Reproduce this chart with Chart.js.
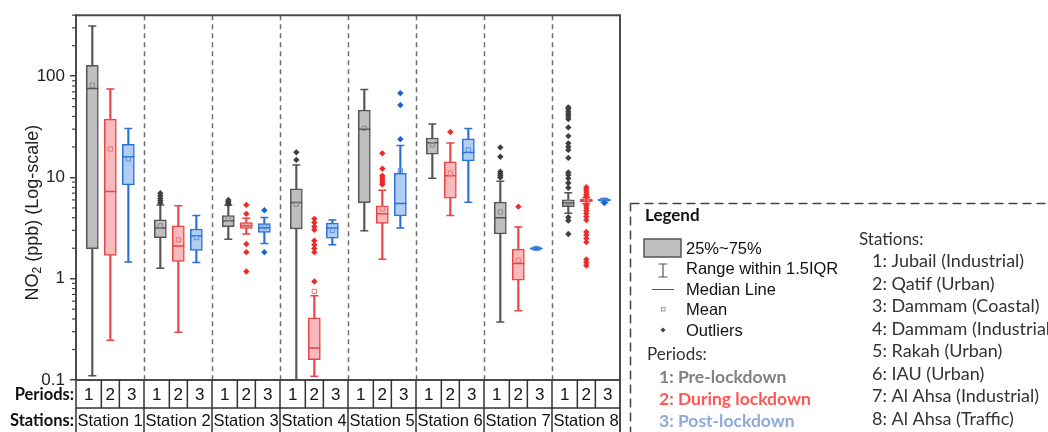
<!DOCTYPE html>
<html>
<head>
<meta charset="utf-8">
<script src="https://cdn.jsdelivr.net/npm/chart.js@4.4.1/dist/chart.umd.min.js"></script>
<style>
  html, body { margin: 0; padding: 0; background: #fff; }
  #wrap { width: 1048px; height: 432px; }
</style>
</head>
<body>
<div id="wrap"><canvas id="chart-no2" width="1048" height="432"></canvas></div>
<script>
const stations = ["Station 1", "Station 2", "Station 3", "Station 4", "Station 5", "Station 6", "Station 7", "Station 8"];
const periods = ["1", "2", "3"];
const yTicks = [0.1, 1, 10, 100];

const periodNames = ["1: Pre-lockdown", "2: During lockdown", "3: Post-lockdown"];
const stationNames = [
  "1: Jubail (Industrial)",
  "2: Qatif (Urban)",
  "3: Dammam (Coastal)",
  "4: Dammam (Industrial)",
  "5: Rakah (Urban)",
  "6: IAU (Urban)",
  "7: Al Ahsa (Industrial)",
  "8: Al Ahsa (Traffic)",
];
const legendItems = ["25%~75%", "Range within 1.5IQR", "Median Line", "Mean", "Outliers"];

// pre-lockdown
const preLow = [0.11, 1.27, 2.46, 0.1, 2.97, 9.8, 0.374, 4.44];
const preQ1 = [1.98, 2.55, 3.27, 3.11, 5.65, 17.0, 2.77, 5.15];
const preMed = [75.7, 3.16, 3.73, 5.65, 30.0, 22.0, 3.99, 5.6];
const preQ3 = [128, 3.81, 4.2, 7.7, 46.2, 24.5, 5.7, 6.0];
const preHigh = [313, 5.36, 5.3, 13.3, 74, 33.7, 9.17, 7.08];
const preMean = [81.5, 3.33, 3.9, 5.44, 30.5, 21.0, 4.57, 5.7];
const preOut = [
  [],
  [7.0, 6.6, 6.2, 5.9, 5.6],
  [6.0, 5.8, 5.6, 5.45],
  [17.7, 14.9],
  [],
  [],
  [19.8, 16.0, 11.4, 10.9, 10.4, 10.0],
  [49.2, 47.3, 44.5, 42, 40, 37.7, 31.2, 25.6, 21.7, 20.1, 18.7, 15.6, 11.2, 10.6, 9.8, 8.8, 7.9, 4.05, 3.75, 2.76],
];

// during lockdown
const durLow = [0.247, 0.296, 2.77, 0.109, 1.56, 4.2, 0.484, 5.5];
const durQ1 = [1.7, 1.48, 3.13, 0.159, 3.51, 6.24, 0.97, 5.75];
const durMed = [7.25, 2.11, 3.33, 0.207, 4.37, 10.4, 1.41, 5.9];
const durQ3 = [37.7, 3.33, 3.59, 0.41, 5.24, 14.3, 1.96, 6.1];
const durHigh = [74.5, 5.24, 3.96, 0.68, 7.48, 21.9, 3.25, 6.3];
const durMean = [19.1, 2.42, 3.4, 0.75, 4.9, 11.0, 1.52, 5.85];
const durOut = [
  [],
  [],
  [5.36, 4.37, 2.2, 1.83, 1.18],
  [3.9, 3.59, 3.27, 3.04, 2.37, 2.16, 1.99, 1.83, 0.94],
  [17.3, 12.2, 10.4, 9.9, 9.4, 8.9, 8.5],
  [28.1],
  [5.15],
  [8.0, 7.6, 7.2, 6.8, 6.5, 5.3, 5.0, 4.7, 4.4, 4.1, 3.8, 2.9, 2.7, 2.5, 2.3, 1.55, 1.45, 1.35],
];

// post-lockdown
const postLow = [1.46, 1.45, 2.23, 2.16, 3.16, 5.7, 1.93, 5.7];
const postQ1 = [8.44, 1.9, 2.86, 2.52, 4.18, 14.6, 1.96, 5.85];
const postMed = [16.0, 2.65, 3.18, 3.16, 5.52, 17.6, 1.99, 5.95];
const postQ3 = [21.2, 3.09, 3.51, 3.54, 11.0, 24.1, 2.02, 6.1];
const postHigh = [30.5, 4.2, 4.02, 3.81, 20.7, 30.5, 2.05, 6.2];
const postMean = [15.2, 2.55, 3.25, 3.0, 11.7, 18.7, 1.99, 5.95];
const postOut = [[], [], [4.75, 1.83], [], [68, 51.8, 23.9], [], [], [5.6]];

// where each period sits inside a station cell (0..1)
const boxOffsets = [0.24, 0.505, 0.77];
const cellSplits = [0.3725, 0.6375];

const colGray = { line: "#555555", fill: "#bfbfbf", mean: "#8a8a8a", out: "#3f3f3f" };
const colRed = { line: "#e84545", fill: "#f8b9bc", mean: "#e87878", out: "#ec2a2a" };
const colBlue = { line: "#2a72d8", fill: "#b1cdf4", mean: "#5a8fdc", out: "#1463d8" };

const SANS = "'Liberation Sans', Arial, sans-serif";
const CAL = "Lato, 'Open Sans', sans-serif";

function xPos(i, k) {
  return i + boxOffsets[k];
}

function periodSets(k, low, q1, med, q3, high, mean, outs, col) {
  const caps = [];
  low.forEach((v, i) => caps.push({ x: xPos(i, k), y: v }));
  high.forEach((v, i) => caps.push({ x: xPos(i, k), y: v }));
  const outPts = [];
  outs.forEach((arr, i) => arr.forEach((v) => outPts.push({ x: xPos(i, k), y: v })));
  return [
    {
      type: "bar",
      data: low.map((v, i) => ({ x: xPos(i, k), y: [v, high[i]] })),
      backgroundColor: col.line,
      barThickness: 1.5,
      grouped: false,
      order: 6,
    },
    {
      type: "scatter",
      data: caps,
      pointStyle: "line",
      radius: 4,
      borderColor: col.line,
      borderWidth: 1.5,
      order: 5,
    },
    {
      type: "bar",
      data: q1.map((v, i) => ({ x: xPos(i, k), y: [v, q3[i]] })),
      backgroundColor: col.fill,
      borderColor: col.line,
      borderWidth: 1.5,
      borderSkipped: false,
      barThickness: 12,
      grouped: false,
      order: 4,
    },
    {
      type: "scatter",
      data: med.map((v, i) => ({ x: xPos(i, k), y: v })),
      pointStyle: "line",
      radius: 6,
      borderColor: col.line,
      borderWidth: 1.5,
      order: 3,
    },
    {
      type: "scatter",
      data: mean.map((v, i) => ({ x: xPos(i, k), y: v })),
      pointStyle: "rect",
      radius: 3,
      borderColor: col.mean,
      backgroundColor: "rgba(0,0,0,0)",
      borderWidth: 1,
      order: 2,
    },
    {
      type: "scatter",
      data: outPts,
      pointStyle: "rectRot",
      radius: 3.2,
      backgroundColor: col.out,
      borderColor: col.out,
      borderWidth: 0,
      order: 1,
    },
  ];
}

const decor = {
  id: "decor",
  beforeDatasetsDraw(chart) {
    const { ctx, chartArea: a, scales } = chart;
    ctx.save();
    ctx.strokeStyle = "#6e6e6e";
    ctx.lineWidth = 1.5;
    ctx.setLineDash([5, 4]);
    for (let i = 1; i < stations.length; i++) {
      const x = Math.round(scales.x.getPixelForValue(i)) + 0.5;
      ctx.beginPath();
      ctx.moveTo(x, a.top);
      ctx.lineTo(x, a.bottom);
      ctx.stroke();
    }
    ctx.restore();
  },
  afterDraw(chart) {
    const { ctx, chartArea: a, scales } = chart;
    const xs = scales.x;
    const ys = scales.y;
    ctx.save();

    // minor log ticks
    ctx.strokeStyle = "#444";
    ctx.lineWidth = 1.2;
    for (let d = 0.1; d <= 100; d *= 10) {
      for (let m = 2; m <= 9; m++) {
        const v = d * m;
        if (v > ys.max) break;
        const y = ys.getPixelForValue(v);
        ctx.beginPath();
        ctx.moveTo(a.left - 4, y);
        ctx.lineTo(a.left, y);
        ctx.stroke();
      }
    }

    // frame top and right
    ctx.strokeStyle = "#4a4a4a";
    ctx.lineWidth = 2;
    ctx.beginPath();
    ctx.moveTo(a.left, a.top);
    ctx.lineTo(a.right, a.top);
    ctx.lineTo(a.right, 432);
    ctx.stroke();

    // table under the plot
    const rowMid = a.bottom + 28;
    ctx.beginPath();
    ctx.moveTo(a.left, a.bottom);
    ctx.lineTo(a.right, a.bottom);
    ctx.stroke();
    ctx.lineWidth = 1.5;
    ctx.strokeStyle = "#333";
    ctx.beginPath();
    ctx.moveTo(a.left, rowMid);
    ctx.lineTo(a.right, rowMid);
    ctx.moveTo(a.left, a.bottom);
    ctx.lineTo(a.left, 432);
    for (let i = 1; i < stations.length; i++) {
      const x = xs.getPixelForValue(i);
      ctx.moveTo(x, a.bottom);
      ctx.lineTo(x, 432);
    }
    for (let i = 0; i < stations.length; i++) {
      cellSplits.forEach((s) => {
        const x = xs.getPixelForValue(i + s);
        ctx.moveTo(x, a.bottom);
        ctx.lineTo(x, rowMid);
      });
    }
    ctx.stroke();

    ctx.fillStyle = "#111";
    ctx.textBaseline = "middle";
    ctx.textAlign = "center";
    const edges = [0, cellSplits[0], cellSplits[1], 1];
    for (let i = 0; i < stations.length; i++) {
      ctx.font = "17px " + SANS;
      periods.forEach((p, k) => {
        const x = xs.getPixelForValue(i + (edges[k] + edges[k + 1]) / 2);
        ctx.fillText(p, x, a.bottom + 15);
      });
      ctx.font = "16.5px " + SANS;
      ctx.fillText(stations[i], xs.getPixelForValue(i + 0.5), rowMid + 13);
    }
    ctx.textAlign = "right";
    ctx.font = "bold 16.5px " + CAL;
    ctx.fillText("Periods:", a.left - 2, a.bottom + 15);
    ctx.fillText("Stations:", a.left - 2, rowMid + 13);

    // y axis title with subscript
    ctx.save();
    ctx.translate(33, (a.top + a.bottom) / 2 + 15);
    ctx.rotate(-Math.PI / 2);
    ctx.textAlign = "left";
    ctx.textBaseline = "middle";
    const big = "18px " + SANS;
    const small = "12px " + SANS;
    ctx.font = big;
    const w1 = ctx.measureText("NO").width;
    const w3 = ctx.measureText(" (ppb) (Log-scale)").width;
    ctx.font = small;
    const w2 = ctx.measureText("2").width;
    let tx = -(w1 + w2 + w3) / 2;
    ctx.fillStyle = "#222";
    ctx.font = big;
    ctx.fillText("NO", tx, 0);
    tx += w1;
    ctx.font = small;
    ctx.fillText("2", tx, 5);
    tx += w2;
    ctx.font = big;
    ctx.fillText(" (ppb) (Log-scale)", tx, 0);
    ctx.restore();

    // legend panel
    ctx.strokeStyle = "#444";
    ctx.lineWidth = 1.5;
    ctx.setLineDash([9, 5]);
    ctx.strokeRect(630.5, 203.5, 600, 300);
    ctx.setLineDash([]);

    ctx.textAlign = "left";
    ctx.textBaseline = "alphabetic";
    ctx.fillStyle = "#111";
    ctx.font = "bold 17px " + CAL;
    ctx.fillText("Legend", 645, 221);

    ctx.fillStyle = colGray.fill;
    ctx.fillRect(644, 239, 37, 18);
    ctx.strokeStyle = colGray.line;
    ctx.lineWidth = 1.5;
    ctx.strokeRect(644, 239, 37, 18);

    ctx.lineWidth = 1.2;
    ctx.beginPath();
    ctx.moveTo(663, 264);
    ctx.lineTo(663, 277);
    ctx.moveTo(658.5, 264);
    ctx.lineTo(667.5, 264);
    ctx.moveTo(658.5, 277);
    ctx.lineTo(667.5, 277);
    ctx.moveTo(652, 289.5);
    ctx.lineTo(674, 289.5);
    ctx.stroke();

    ctx.strokeStyle = "#9a9a9a";
    ctx.lineWidth = 1;
    ctx.strokeRect(661.5, 307.5, 3.5, 3.5);
    ctx.fillStyle = "#444";
    ctx.beginPath();
    ctx.moveTo(663, 327.5);
    ctx.lineTo(665.5, 330);
    ctx.lineTo(663, 332.5);
    ctx.lineTo(660.5, 330);
    ctx.closePath();
    ctx.fill();

    ctx.fillStyle = "#111";
    ctx.font = "16.5px " + SANS;
    const itemY = [254, 274, 295, 315, 336];
    legendItems.forEach((t, j) => ctx.fillText(t, 686, itemY[j]));

    ctx.fillStyle = "#333";
    ctx.font = "17px " + CAL;
    ctx.fillText("Periods:", 647, 360);
    const periodCols = ["#808080", "#ff5555", "#8eaadc"];
    ctx.font = "bold 17.5px " + CAL;
    periodNames.forEach((t, j) => {
      ctx.fillStyle = periodCols[j];
      ctx.fillText(t, 659, 383 + j * 22);
    });

    ctx.fillStyle = "#333";
    ctx.font = "17px " + CAL;
    ctx.fillText("Stations:", 859, 245);
    ctx.font = "18px " + CAL;
    stationNames.forEach((t, j) => ctx.fillText(t, 872, 267 + j * 22.5));

    ctx.restore();
  },
};

const chartNo2 = new Chart(document.querySelector("#chart-no2"), {
  data: {
    datasets: [
      ...periodSets(0, preLow, preQ1, preMed, preQ3, preHigh, preMean, preOut, colGray),
      ...periodSets(1, durLow, durQ1, durMed, durQ3, durHigh, durMean, durOut, colRed),
      ...periodSets(2, postLow, postQ1, postMed, postQ3, postHigh, postMean, postOut, colBlue),
    ],
  },
  options: {
    responsive: false,
    animation: false,
    layout: { padding: { left: 0, top: 15, right: 428, bottom: 52 } },
    plugins: {
      legend: { display: false },
      tooltip: { enabled: false },
    },
    scales: {
      x: {
        type: "linear",
        min: 0,
        max: stations.length,
        offset: false,
        display: false,
      },
      y: {
        type: "logarithmic",
        position: "left",
        min: 0.1,
        max: 400,
        afterBuildTicks: (scale) => {
          scale.ticks = yTicks.map((v) => ({ value: v }));
        },
        afterFit: (scale) => {
          scale.width = 76;
        },
        ticks: {
          callback: (v) => String(v),
          color: "#222",
          padding: 5,
          font: { family: SANS, size: 17 },
        },
        grid: {
          drawOnChartArea: false,
          drawTicks: true,
          tickLength: 6,
          color: "#444",
          lineWidth: 1.5,
        },
        border: { display: true, color: "#4a4a4a", width: 2 },
      },
    },
  },
  plugins: [decor],
});
</script>
</body>
</html>
